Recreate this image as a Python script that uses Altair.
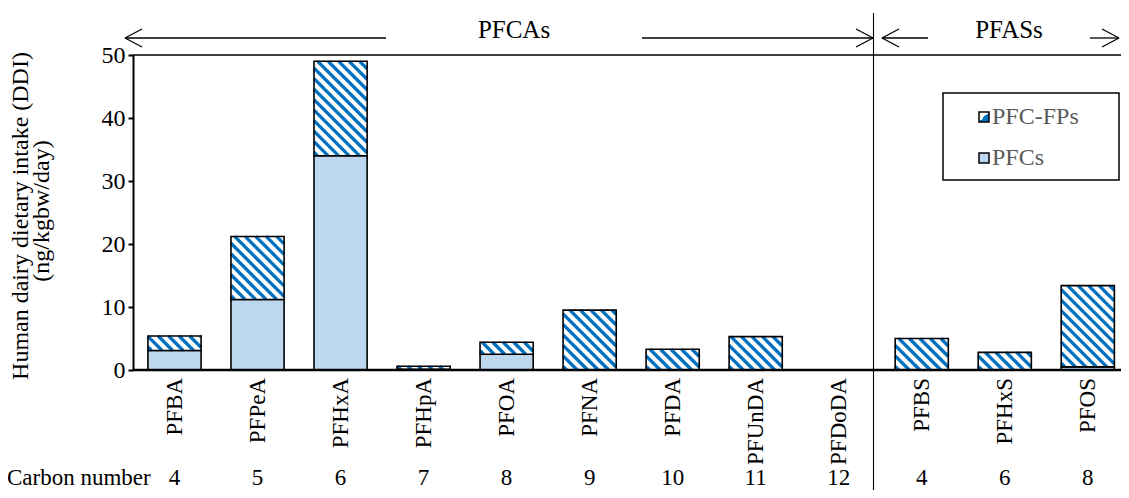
import altair as alt
import pandas as pd

# ---- data ----
compounds = ["PFBA", "PFPeA", "PFHxA", "PFHpA", "PFOA", "PFNA", "PFDA",
             "PFUnDA", "PFDoDA", "PFBS", "PFHxS", "PFOS"]
carbon_numbers = ["4", "5", "6", "7", "8", "9", "10", "11", "12", "4", "6", "8"]
pfcs = [3.1, 11.2, 34.0, 0.1, 2.5, 0.0, 0.0, 0.0, 0.0, 0.0, 0.0, 0.5]
pfc_fps = [2.3, 10.0, 15.0, 0.5, 1.9, 9.5, 3.3, 5.3, 0.05, 5.0, 2.8, 12.9]

# ---- layout / style ----
W, H = 988, 315
X_MIN, X_MAX = -0.5, 11.4
Y_MAX = 50
PX = W / (X_MAX - X_MIN)
PY = H / Y_MAX
HALF = 0.32
PERIOD = 10.5
STRIPE = "#0070C0"
LIGHT = "#BDD7EE"
FONT = "Times New Roman, Liberation Serif, serif"

df = pd.DataFrame({
    "compound": compounds,
    "idx": list(range(len(compounds))),
    "carbon": carbon_numbers,
    "pfcs": pfcs,
    "fps": pfc_fps,
})
one = pd.DataFrame({"a": [0]})

xs = alt.Scale(domain=[X_MIN, X_MAX], nice=False, zero=False)
ys = alt.Scale(domain=[0, Y_MAX], nice=False, zero=True)

yaxis = alt.Axis(values=[0, 10, 20, 30, 40, 50], title=None, grid=False,
                 domainColor="black", domainWidth=2, tickColor="black",
                 tickWidth=2, tickSize=5, labelFont=FONT, labelFontSize=24,
                 labelColor="black", labelPadding=3)

base = alt.Chart(df).transform_calculate(
    x0=f"datum.idx - {HALF}"
).transform_calculate(
    x1=f"datum.idx + {HALF}"
).transform_calculate(
    top="datum.pfcs + datum.fps"
).transform_calculate(
    zero="0"
)

pfc_rect = base.transform_filter("datum.pfcs > 0").mark_rect(
    fill=LIGHT, stroke="black", strokeWidth=1.6
).encode(
    x=alt.X("x0:Q", scale=xs, axis=None), x2="x1:Q",
    y=alt.Y("zero:Q", scale=ys, axis=yaxis), y2="pfcs:Q",
)

fp_rect = base.mark_rect(fill="white").encode(
    x=alt.X("x0:Q", scale=xs, axis=None), x2="x1:Q",
    y=alt.Y("pfcs:Q", scale=ys), y2="top:Q",
)

hatch = base.transform_filter("datum.fps > 0.2").transform_calculate(
    bw=f"{2 * HALF * PX}"
).transform_calculate(
    bh=f"datum.fps * {PY}"
).transform_calculate(
    ks=f"sequence(0, ceil((datum.bw + datum.bh) / {PERIOD}) + 1)"
).transform_flatten(["ks"]).transform_calculate(
    c=f"(datum.ks + 0.35) * {PERIOD}"
).transform_filter("datum.c < datum.bw + datum.bh").transform_calculate(
    us="max(0, datum.c - datum.bh)"
).transform_calculate(
    ue="min(datum.bw, datum.c)"
).transform_calculate(
    hx1=f"datum.x0 + datum.us / {PX}"
).transform_calculate(
    hy1=f"datum.pfcs + (datum.c - datum.us) / {PY}"
).transform_calculate(
    hx2=f"datum.x0 + datum.ue / {PX}"
).transform_calculate(
    hy2=f"datum.pfcs + (datum.c - datum.ue) / {PY}"
).mark_rule(stroke=STRIPE, strokeWidth=3.3, strokeCap="butt").encode(
    x=alt.X("hx1:Q", scale=xs, axis=None), y=alt.Y("hy1:Q", scale=ys),
    x2="hx2:Q", y2="hy2:Q",
)

fp_outline = base.mark_rect(fillOpacity=0, stroke="black", strokeWidth=1.6).encode(
    x=alt.X("x0:Q", scale=xs, axis=None), x2="x1:Q",
    y=alt.Y("pfcs:Q", scale=ys), y2="top:Q",
)

top_line = alt.Chart(pd.DataFrame({"v": [Y_MAX]})).mark_rule(
    stroke="black", strokeWidth=1.6).encode(y=alt.Y("v:Q", scale=ys))
base_line = alt.Chart(pd.DataFrame({"v": [0]})).mark_rule(
    stroke="black", strokeWidth=2.5).encode(y=alt.Y("v:Q", scale=ys))

x_labels = alt.Chart(df).mark_text(
    angle=270, align="right", baseline="middle", font=FONT, fontSize=23,
    color="black"
).encode(x=alt.X("idx:Q", scale=xs), y=alt.value(H + 8), text="compound:N")

carbon_labels = alt.Chart(df).mark_text(
    align="center", baseline="middle", font=FONT, fontSize=23, color="black"
).encode(x=alt.X("idx:Q", scale=xs), y=alt.value(H + 108), text="carbon:N")


def seg(x1, y1, x2, y2, w=1.3):
    return alt.Chart(one).mark_rule(stroke="black", strokeWidth=w).encode(
        x=alt.value(x1), y=alt.value(y1), x2=alt.value(x2), y2=alt.value(y2))


def arrow(tail, tip, y):
    s = 1 if tail > tip else -1
    return [seg(tail, y, tip, y), seg(tip, y, tip + s * 17, y - 9),
            seg(tip, y, tip + s * 17, y + 9)]


def label(txt, x, y, size=23, align="center", color="black", angle=0):
    kw = dict(text=txt, align=align, baseline="middle", font=FONT,
              fontSize=size, color=color)
    if angle:
        kw["angle"] = angle
    return alt.Chart(one).mark_text(**kw).encode(x=alt.value(x), y=alt.value(y))


annotations = []
annotations += arrow(253, -8, -17)
annotations += arrow(509, 740, -17)
annotations += arrow(795, 749, -17)
annotations += arrow(957, 986, -17)
annotations.append(label("PFCAs", 381, -25, size=25))
annotations.append(label("PFASs", 876, -25, size=25))
annotations.append(seg(740.5, -42, 740.5, 440, w=1.1))
annotations.append(label("Carbon number", -126, H + 108, size=23, align="left"))
annotations.append(label("Human dairy dietary intake (DDI)", -112, 161, size=24, angle=270))
annotations.append(label("(ng/kgbw/day)", -91, 156, size=24, angle=270))

# legend
annotations.append(alt.Chart(one).mark_rect(fillOpacity=0, stroke="black", strokeWidth=1.5).encode(
    x=alt.value(810), x2=alt.value(986), y=alt.value(38), y2=alt.value(125)))
annotations.append(alt.Chart(one).mark_rect(
    fill=alt.LinearGradient(gradient="linear", x1=0, y1=0, x2=1, y2=1, stops=[
        alt.GradientStop(color="white", offset=0),
        alt.GradientStop(color="white", offset=0.5),
        alt.GradientStop(color=STRIPE, offset=0.5),
        alt.GradientStop(color=STRIPE, offset=1)]),
    stroke="black", strokeWidth=1.5).encode(
    x=alt.value(846), x2=alt.value(856), y=alt.value(57), y2=alt.value(67)))
annotations.append(alt.Chart(one).mark_rect(fill=LIGHT, stroke="black", strokeWidth=1.5).encode(
    x=alt.value(846), x2=alt.value(856), y=alt.value(98), y2=alt.value(108)))
annotations.append(label("PFC-FPs", 859, 62, size=24, align="left", color="#595959"))
annotations.append(label("PFCs", 859, 103, size=24, align="left", color="#595959"))

chart = alt.layer(
    pfc_rect, fp_rect, hatch, fp_outline, top_line, base_line,
    x_labels, carbon_labels, *annotations
).properties(
    width=W, height=H,
    padding={"left": 125, "top": 47, "right": 0, "bottom": 120},
    autosize="none",
).configure_view(stroke=None)

chart.save("out.html", embed_options={"renderer": "svg", "actions": False})
